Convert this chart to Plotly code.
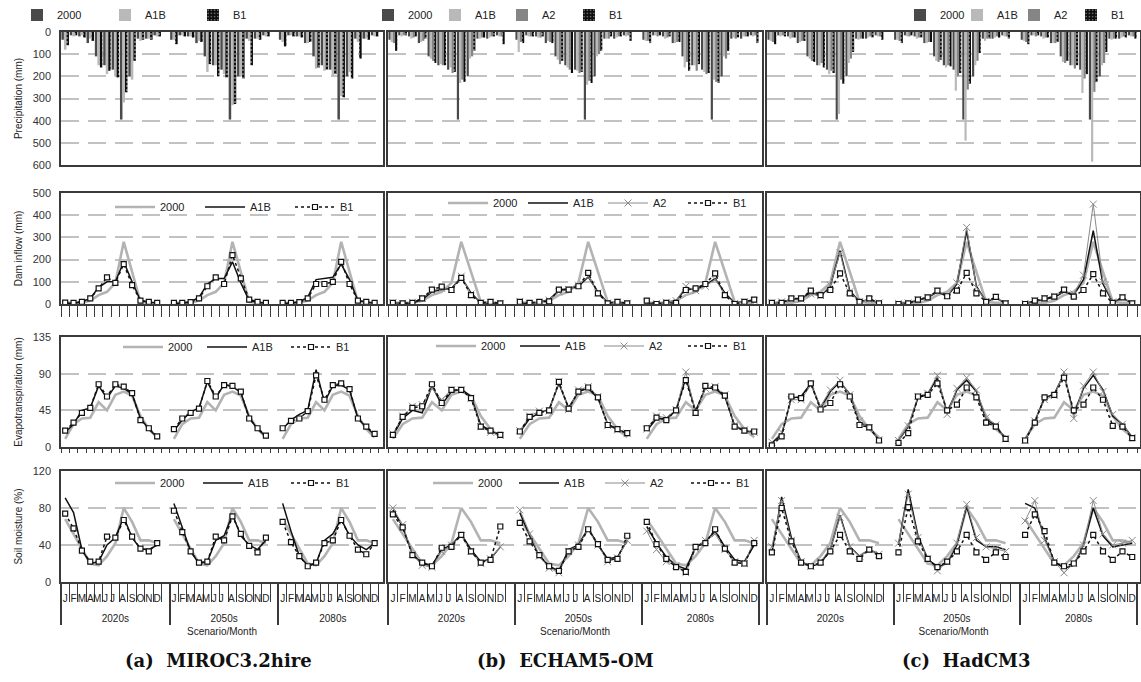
import plotly.graph_objects as go

W, H = 1141, 682

# ---------------- categories / text ----------------
PERIODS = ["2020s", "2050s", "2080s"]
MONTHS = ["J", "F", "M", "A", "M", "J", "J", "A", "S", "O", "N", "D"]
PANEL_TITLES = ["(a)\u00a0 MIROC3.2hire", "(b)\u00a0 ECHAM5-OM", "(c)\u00a0 HadCM3"]
X_TITLE = "Scenario/Month"
Y_TITLES = ["Precipitation (mm)", "Dam inflow (mm)", "Evapotranspiration (mm)", "Soil moisture (%)"]
SCEN_A = ["2000", "A1B", "B1"]
SCEN_BC = ["2000", "A1B", "A2", "B1"]

# ---------------- baseline 2000 (same every period) ----------------
PRECIP_2000 = [35, 15, 20, 50, 110, 150, 170, 395, 200, 30, 30, 15]
DAM_2000 = [5, 5, 5, 15, 40, 55, 95, 280, 150, 10, 5, 5]
ET_2000 = [10, 28, 35, 36, 55, 45, 64, 68, 63, 38, 22, 12]
SOIL_2000 = [68, 52, 35, 20, 18, 28, 42, 80, 65, 45, 45, 42]

# ---------------- precipitation (2020s, 2050s, 2080s) ----------------
PRECIP_MIROC_A1B = [80, 20, 15, 30, 150, 190, 200, 318, 215, 40, 30, 20,
                    35, 15, 20, 40, 180, 150, 190, 330, 200, 40, 30, 20,
                    45, 15, 20, 50, 165, 175, 200, 290, 180, 45, 30, 20]
PRECIP_MIROC_B1 = [60, 15, 25, 40, 160, 175, 205, 272, 130, 35, 35, 20,
                   55, 20, 25, 45, 145, 200, 205, 325, 210, 150, 35, 20,
                   65, 20, 25, 45, 160, 170, 190, 295, 210, 120, 35, 20]
PRECIP_ECHAM_A1B = [45, 20, 30, 45, 120, 145, 160, 230, 120, 30, 25, 20,
                    90, 20, 25, 40, 125, 160, 175, 238, 110, 30, 25, 20,
                    40, 15, 30, 50, 160, 150, 180, 215, 110, 25, 20, 20]
PRECIP_ECHAM_A2 = [50, 15, 25, 40, 130, 150, 185, 215, 110, 25, 20, 20,
                   45, 20, 25, 45, 145, 170, 185, 220, 100, 30, 20, 15,
                   40, 20, 25, 45, 135, 175, 190, 225, 120, 30, 20, 15]
PRECIP_ECHAM_B1 = [85, 15, 20, 30, 140, 150, 180, 225, 85, 25, 20, 55,
                   50, 20, 20, 50, 130, 185, 180, 230, 85, 20, 20, 40,
                   50, 15, 20, 45, 175, 145, 185, 230, 85, 25, 20, 50]
PRECIP_HAD_A1B = [40, 20, 30, 45, 120, 150, 190, 370, 140, 35, 25, 20,
                  35, 20, 30, 50, 130, 160, 265, 490, 150, 40, 25, 20,
                  40, 15, 30, 50, 135, 150, 275, 585, 150, 35, 25, 20]
PRECIP_HAD_A2 = [45, 15, 25, 40, 130, 140, 175, 215, 120, 30, 20, 20,
                 40, 20, 25, 45, 135, 150, 200, 260, 130, 30, 20, 20,
                 45, 20, 25, 50, 140, 165, 210, 270, 140, 30, 20, 20]
PRECIP_HAD_B1 = [55, 20, 25, 40, 135, 160, 185, 233, 90, 30, 25, 35,
                 50, 15, 25, 45, 125, 155, 185, 233, 95, 30, 25, 30,
                 55, 15, 25, 45, 130, 150, 190, 226, 90, 30, 25, 30]

# ---------------- dam inflow ----------------
DAM_MIROC_A1B = [3, 3, 10, 25, 75, 100, 100, 190, 100, 15, 8, 5,
                 3, 3, 10, 30, 90, 115, 115, 190, 95, 15, 8, 3,
                 3, 3, 10, 30, 110, 115, 120, 180, 110, 15, 8, 3]
DAM_MIROC_B1 = [6, 5, 10, 25, 70, 120, 95, 180, 85, 15, 10, 5,
                5, 5, 8, 25, 80, 120, 90, 220, 115, 20, 10, 5,
                5, 5, 8, 25, 90, 90, 100, 190, 90, 15, 10, 5]
DAM_ECHAM_A1B = [5, 3, 5, 20, 55, 65, 70, 120, 50, 5, 5, 3,
                 5, 3, 8, 20, 60, 70, 80, 122, 55, 5, 8, 3,
                 5, 3, 8, 15, 70, 65, 85, 115, 50, 5, 10, 15]
DAM_ECHAM_A2 = [5, 3, 8, 25, 60, 70, 65, 125, 45, 5, 8, 3,
                12, 3, 8, 18, 55, 65, 85, 125, 50, 5, 8, 3,
                8, 3, 8, 15, 80, 60, 80, 110, 45, 3, 10, 15]
DAM_ECHAM_B1 = [5, 3, 5, 25, 65, 78, 63, 118, 40, 5, 10, 3,
                10, 5, 10, 12, 65, 65, 80, 140, 48, 3, 10, 3,
                15, 0, 5, 5, 63, 70, 90, 138, 40, 0, 10, 20]
DAM_HAD_A1B = [5, 8, 20, 25, 50, 35, 80, 240, 60, 10, 20, 5,
               3, 5, 18, 28, 55, 35, 90, 330, 80, 10, 28, 3,
               3, 12, 22, 30, 55, 40, 110, 330, 90, 8, 28, 3]
DAM_HAD_A2 = [5, 10, 22, 22, 45, 38, 85, 230, 55, 10, 20, 5,
              3, 5, 20, 30, 58, 38, 95, 345, 75, 12, 30, 3,
              3, 15, 25, 35, 60, 45, 130, 450, 100, 10, 30, 3]
DAM_HAD_B1 = [5, 5, 25, 25, 60, 40, 63, 138, 48, 10, 25, 3,
              0, 3, 20, 30, 60, 35, 60, 140, 48, 10, 32, 3,
              0, 15, 25, 33, 65, 33, 63, 135, 48, 5, 30, 3]

# ---------------- evapotranspiration ----------------
ET_MIROC_A1B = [18, 28, 45, 48, 75, 60, 75, 72, 65, 35, 22, 12,
                20, 33, 43, 48, 80, 60, 77, 74, 67, 36, 22, 13,
                22, 33, 40, 45, 95, 55, 75, 76, 70, 35, 24, 15]
ET_MIROC_B1 = [20, 30, 42, 48, 77, 62, 77, 74, 66, 33, 23, 13,
               22, 35, 42, 47, 81, 62, 76, 75, 68, 35, 23, 14,
               23, 32, 35, 44, 88, 58, 76, 78, 71, 35, 25, 16]
ET_ECHAM_A1B = [14, 35, 45, 42, 75, 52, 68, 71, 62, 27, 20, 14,
                18, 35, 42, 46, 78, 48, 68, 72, 60, 28, 22, 16,
                20, 35, 35, 45, 85, 44, 72, 72, 62, 26, 20, 18]
ET_ECHAM_A2 = [16, 38, 50, 52, 72, 58, 70, 70, 60, 25, 18, 14,
               20, 38, 44, 44, 80, 46, 70, 74, 62, 26, 21, 17,
               22, 38, 36, 46, 92, 42, 72, 74, 64, 27, 21, 18]
ET_ECHAM_B1 = [15, 37, 48, 50, 77, 54, 70, 70, 60, 25, 20, 15,
               19, 37, 42, 45, 80, 47, 68, 73, 61, 27, 22, 17,
               23, 36, 33, 45, 82, 42, 75, 73, 63, 25, 20, 19]
ET_HAD_A1B = [5, 15, 60, 62, 78, 48, 68, 80, 65, 30, 25, 8,
              8, 25, 60, 65, 85, 42, 70, 82, 68, 34, 26, 10,
              8, 32, 60, 65, 90, 40, 72, 88, 70, 38, 28, 12]
ET_HAD_A2 = [6, 18, 58, 58, 76, 50, 70, 82, 64, 32, 24, 9,
             8, 26, 62, 66, 88, 40, 72, 85, 70, 36, 27, 10,
             8, 32, 58, 63, 92, 35, 75, 92, 68, 40, 28, 12]
ET_HAD_B1 = [2, 13, 62, 60, 78, 46, 54, 77, 62, 27, 24, 8,
             5, 17, 62, 64, 78, 45, 52, 73, 61, 30, 25, 10,
             8, 30, 61, 64, 85, 45, 52, 73, 58, 26, 25, 11]

# ---------------- soil moisture ----------------
SOIL_MIROC_A1B = [91, 75, 35, 20, 22, 40, 48, 70, 48, 36, 35, 40,
                  85, 60, 33, 20, 22, 45, 50, 73, 50, 40, 35, 45,
                  85, 55, 28, 18, 20, 45, 52, 68, 50, 40, 35, 42]
SOIL_MIROC_B1 = [74, 58, 34, 22, 22, 49, 48, 67, 49, 36, 33, 42,
                 77, 54, 33, 21, 22, 49, 45, 71, 52, 39, 32, 48,
                 65, 43, 28, 17, 21, 42, 45, 67, 50, 35, 30, 42]
SOIL_ECHAM_A1B = [78, 60, 30, 20, 18, 35, 40, 52, 35, 22, 25, 38,
                  75, 50, 28, 17, 12, 35, 40, 58, 40, 25, 27, 45,
                  60, 42, 27, 18, 14, 38, 44, 55, 38, 24, 22, 40]
SOIL_ECHAM_A2 = [80, 62, 30, 18, 16, 33, 40, 50, 33, 20, 25, 38,
                 78, 52, 28, 15, 10, 33, 40, 56, 40, 22, 26, 45,
                 55, 35, 22, 18, 10, 36, 45, 52, 35, 22, 20, 45]
SOIL_ECHAM_B1 = [73, 59, 29, 21, 17, 37, 38, 51, 33, 21, 24, 60,
                 64, 44, 29, 17, 12, 33, 38, 57, 41, 24, 25, 50,
                 65, 41, 25, 16, 11, 38, 42, 57, 36, 21, 20, 42]
SOIL_HAD_A1B = [32, 92, 48, 22, 17, 20, 35, 72, 38, 28, 35, 30,
                40, 100, 50, 25, 16, 20, 40, 82, 45, 38, 38, 35,
                85, 80, 48, 22, 15, 18, 40, 80, 50, 38, 40, 42]
SOIL_HAD_A2 = [38, 88, 45, 22, 17, 22, 36, 70, 38, 28, 35, 30,
               42, 95, 48, 25, 12, 22, 42, 84, 48, 38, 36, 33,
               66, 88, 45, 22, 10, 20, 40, 88, 52, 40, 42, 45]
SOIL_HAD_B1 = [32, 80, 44, 21, 17, 21, 33, 51, 33, 25, 35, 28,
               32, 81, 44, 25, 16, 22, 33, 51, 32, 24, 32, 27,
               51, 73, 55, 21, 17, 20, 33, 51, 33, 24, 33, 27]

# ---------------- assemble tables ----------------
BASE = [PRECIP_2000, DAM_2000, ET_2000, SOIL_2000]
DATA = [  # DATA[col][row] -> {scenario: 36 values}
    [
        {"A1B": PRECIP_MIROC_A1B, "B1": PRECIP_MIROC_B1},
        {"A1B": DAM_MIROC_A1B, "B1": DAM_MIROC_B1},
        {"A1B": ET_MIROC_A1B, "B1": ET_MIROC_B1},
        {"A1B": SOIL_MIROC_A1B, "B1": SOIL_MIROC_B1},
    ],
    [
        {"A1B": PRECIP_ECHAM_A1B, "A2": PRECIP_ECHAM_A2, "B1": PRECIP_ECHAM_B1},
        {"A1B": DAM_ECHAM_A1B, "A2": DAM_ECHAM_A2, "B1": DAM_ECHAM_B1},
        {"A1B": ET_ECHAM_A1B, "A2": ET_ECHAM_A2, "B1": ET_ECHAM_B1},
        {"A1B": SOIL_ECHAM_A1B, "A2": SOIL_ECHAM_A2, "B1": SOIL_ECHAM_B1},
    ],
    [
        {"A1B": PRECIP_HAD_A1B, "A2": PRECIP_HAD_A2, "B1": PRECIP_HAD_B1},
        {"A1B": DAM_HAD_A1B, "A2": DAM_HAD_A2, "B1": DAM_HAD_B1},
        {"A1B": ET_HAD_A1B, "A2": ET_HAD_A2, "B1": ET_HAD_B1},
        {"A1B": SOIL_HAD_A1B, "A2": SOIL_HAD_A2, "B1": SOIL_HAD_B1},
    ],
]
SCENARIOS = [SCEN_A, SCEN_BC, SCEN_BC]

# 13 slots per period: 12 months + one empty slot (as in the original chart)
def slot_labels():
    seen, out = {}, []
    for m in MONTHS:
        k = seen.get(m, 0)
        out.append(m + " " * k)
        seen[m] = k + 1
    out.append("     ")
    return out

LBL = slot_labels()
X_LVL1 = ["<br>" + p for p in PERIODS for _ in LBL]   # line break = extra gap below months
X_LVL2 = LBL * len(PERIODS)
XCAT = [X_LVL1, X_LVL2]

def expand(v36):
    out = []
    for p in range(3):
        out += list(v36[p * 12:(p + 1) * 12]) + [None]
    return out

# ---------------- styling ----------------
FRAME = "#3a3a3a"
GRID = "#c2c2c2"
BAR_COLORS = {"2000": "#4a4a4a", "A1B": "#b9b9b9", "A2": "#858585", "B1": "#0d0d0d"}

X_DOM = [(61, 383), (388, 762), (767, 1140)]
X_END = [38.0, 37.8, 37.8]
Y_DOM = [(32, 165), (193, 304), (337, 447), (471, 582)]
Y_RANGES = [[600, 0], [0, 500], [0, 135], [0, 120]]
Y_DTICK = [100, 100, 45, 40]

# legend id per (col,row): name, x px, y px (centre), entry width px
LEG = {
    (0, 0): ("legend", 17, 15, 43), (0, 1): ("legend2", 110, 207, 35),
    (0, 2): ("legend3", 118, 347, 29), (0, 3): ("legend4", 110, 483, 33),
    (1, 0): ("legend5", 368, 15, 22), (1, 1): ("legend6", 443, 203, 25),
    (1, 2): ("legend7", 431, 346, 29), (1, 3): ("legend8", 428, 483, 31),
    (2, 0): ("legend9", 900, 15, 12),
}

def fx(p):
    return p / W

def fy(p):
    return 1 - p / H

fig = go.Figure()

def line_style(s):
    if s == "2000":
        return dict(mode="lines", line=dict(color="#b3b3b3", width=2.6))
    if s == "A1B":
        return dict(mode="lines", line=dict(color="#111111", width=1.5))
    if s == "A2":
        return dict(mode="lines+markers", line=dict(color="#8a8a8a", width=1),
                    marker=dict(symbol="x-thin-open", size=7,
                                line=dict(color="#6a6a6a", width=1)))
    return dict(mode="lines+markers", line=dict(color="#111111", width=1.5, dash="dot"),
                marker=dict(symbol="square", size=5, color="white",
                            line=dict(color="#111111", width=1.2)))

layout = dict(
    width=W, height=H, margin=dict(l=0, r=0, t=0, b=0),
    paper_bgcolor="white", plot_bgcolor="white",
    barmode="group", bargap=0.1, bargroupgap=0,
    font=dict(family="Liberation Sans, Arial, sans-serif", size=10, color="#222222"),
)

for c in range(3):
    for r in range(4):
        k = r * 3 + c + 1
        xs = "x" if k == 1 else f"x{k}"
        ys = "y" if k == 1 else f"y{k}"
        xa = "xaxis" if k == 1 else f"xaxis{k}"
        ya = "yaxis" if k == 1 else f"yaxis{k}"
        leg = LEG.get((c, r))
        for s in SCENARIOS[c]:
            vals = BASE[r] * 3 if s == "2000" else DATA[c][r][s]
            common = dict(x=XCAT, y=expand(vals), name=s, xaxis=xs, yaxis=ys,
                          showlegend=leg is not None, hoverinfo="skip")
            if leg is not None:
                common["legend"] = leg[0]
            if r == 0:
                mk = dict(color=BAR_COLORS[s], line=dict(width=0))
                if s == "B1":
                    mk["pattern"] = dict(shape=".", fgcolor="white", bgcolor=BAR_COLORS[s],
                                         size=4, solidity=0.2)
                fig.add_trace(go.Bar(marker=mk, **common))
            else:
                fig.add_trace(go.Scatter(connectgaps=False, **common, **line_style(s)))

        xaxis = dict(
            domain=[fx(X_DOM[c][0]), fx(X_DOM[c][1])], anchor=ys,
            type="multicategory", range=[-0.5, X_END[c]], autorange=False,
            nticks=100, showline=True, mirror=True, linecolor=FRAME, linewidth=1.5,
            showgrid=False, zeroline=False, tickson="boundaries",
            tickcolor=FRAME, tickwidth=1.2, automargin=False,
        )
        if r < 3:
            xaxis.update(showticklabels=False, showdividers=False)
            if r == 0:
                xaxis.update(ticks="")
            elif r == 1:
                xaxis.update(ticks="outside", ticklen=11)
            else:
                xaxis.update(ticks="outside", ticklen=4)
        else:
            xaxis.update(ticks="outside", ticklen=18, showticklabels=True, tickangle=0,
                         ticklabelstandoff=6,
                         showdividers=True, dividercolor=FRAME, dividerwidth=1.5,
                         tickfont=dict(size=10, color="#222222"),
                         title=dict(text=X_TITLE, standoff=5, font=dict(size=10)))
        yaxis = dict(
            domain=[fy(Y_DOM[r][1]), fy(Y_DOM[r][0])], anchor=xs,
            range=Y_RANGES[r], autorange=False, tick0=0, dtick=Y_DTICK[r],
            showgrid=True, gridcolor=GRID, gridwidth=1.5, griddash="18px,9px",
            showline=True, mirror=True, linecolor=FRAME, linewidth=1.5,
            zeroline=False, ticks="", showticklabels=(c == 0),
            tickfont=dict(size=11, color="#333333"), ticklabelstandoff=6,
            automargin=False,
        )
        if c == 0:
            yaxis["title"] = dict(text=Y_TITLES[r], standoff=8, font=dict(size=10))
        layout[xa] = xaxis
        layout[ya] = yaxis

for (c, r), (name, lx, ly, ew) in LEG.items():
    layout[name] = dict(
        x=fx(lx), y=fy(ly), xanchor="left", yanchor="middle",
        orientation="h", entrywidth=ew, entrywidthmode="pixels",
        itemwidth=40 if r > 0 else 30, bgcolor="rgba(0,0,0,0)",
        font=dict(size=11, color="#222222"), traceorder="normal",
        itemclick=False, itemdoubleclick=False,
    )

TITLE_X = [218, 565, 966]
layout["annotations"] = [
    dict(text=t, x=fx(TITLE_X[i]), y=fy(660), xref="paper", yref="paper",
         showarrow=False, xanchor="center", yanchor="middle",
         font=dict(family="DejaVu Serif, Liberation Serif, serif", size=18,
                   color="#111111", weight="bold"))
    for i, t in enumerate(PANEL_TITLES)
]

fig.update_layout(**layout)
fig.write_html("out.html", config={"displayModeBar": False})
